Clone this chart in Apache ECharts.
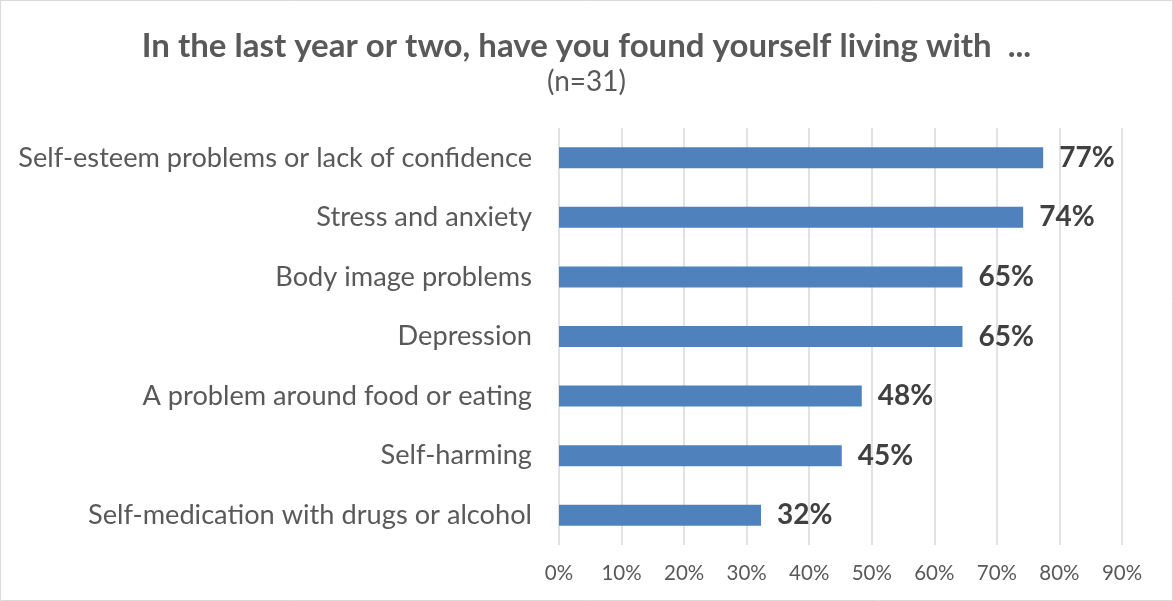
<!DOCTYPE html>
<html>
<head>
<meta charset="utf-8">
<script src="https://cdn.jsdelivr.net/npm/echarts@6/dist/echarts.min.js"></script>
<style>
  html, body { margin: 0; padding: 0; background: #fff; }
  #chart { width: 1173px; height: 601px; }
</style>
</head>
<body>
<div id="chart"></div>
<script>
// Survey items, listed top to bottom
const categories = [
  'Self-esteem problems or lack of confidence',
  'Stress and anxiety',
  'Body image problems',
  'Depression',
  'A problem around food or eating',
  'Self-harming',
  'Self-medication with drugs or alcohol'
];
// Share of respondents (%)
const values = [77.4, 74.2, 64.5, 64.5, 48.4, 45.2, 32.3];
// Axis tick labels
const tickLabels = ['0%', '10%', '20%', '30%', '40%', '50%', '60%', '70%', '80%', '90%'];

const titleText = 'In the last year or two, have you found yourself living with  ...';
const subText = '(n=31)';

const chart = echarts.init(document.getElementById('chart'));
chart.setOption({
  animation: false,
  backgroundColor: '#ffffff',
  graphic: [{
    type: 'rect',
    shape: { x: 0.5, y: 0.5, width: 1172, height: 600 },
    style: { fill: 'none', stroke: '#d9d9d9', lineWidth: 1 },
    silent: true
  }],
  title: {
    text: titleText,
    subtext: subText,
    left: 'center',
    top: 25,
    itemGap: 5,
    textStyle: { fontFamily: 'Lato', fontWeight: 'bold', fontSize: 33, color: '#595959' },
    subtextStyle: { fontFamily: 'Lato', fontSize: 28, color: '#595959' }
  },
  grid: { left: 559, right: 51, top: 128, bottom: 56, containLabel: false },
  xAxis: {
    type: 'value',
    min: 0,
    max: 90,
    interval: 10,
    axisLine: { show: false },
    axisTick: { show: false },
    splitLine: { show: true, lineStyle: { color: '#d9d9d9', width: 1.5 } },
    axisLabel: {
      margin: 18,
      fontFamily: 'Lato',
      fontSize: 20.5,
      color: '#595959',
      formatter: (v) => tickLabels[Math.round(v / 10)]
    }
  },
  yAxis: {
    type: 'category',
    data: categories,
    inverse: true,
    axisLine: { show: false },
    axisTick: { show: false },
    axisLabel: { margin: 27, fontFamily: 'Lato', fontSize: 27.2, color: '#595959' }
  },
  series: [{
    type: 'bar',
    data: values,
    barWidth: 21,
    itemStyle: { color: '#4f81bd' },
    label: {
      show: true,
      position: 'right',
      distance: 16,
      fontFamily: 'Lato',
      fontWeight: 'bold',
      fontSize: 28,
      color: '#404040',
      formatter: (p) => Math.round(p.value) + '%'
    }
  }]
});
</script>
</body>
</html>
